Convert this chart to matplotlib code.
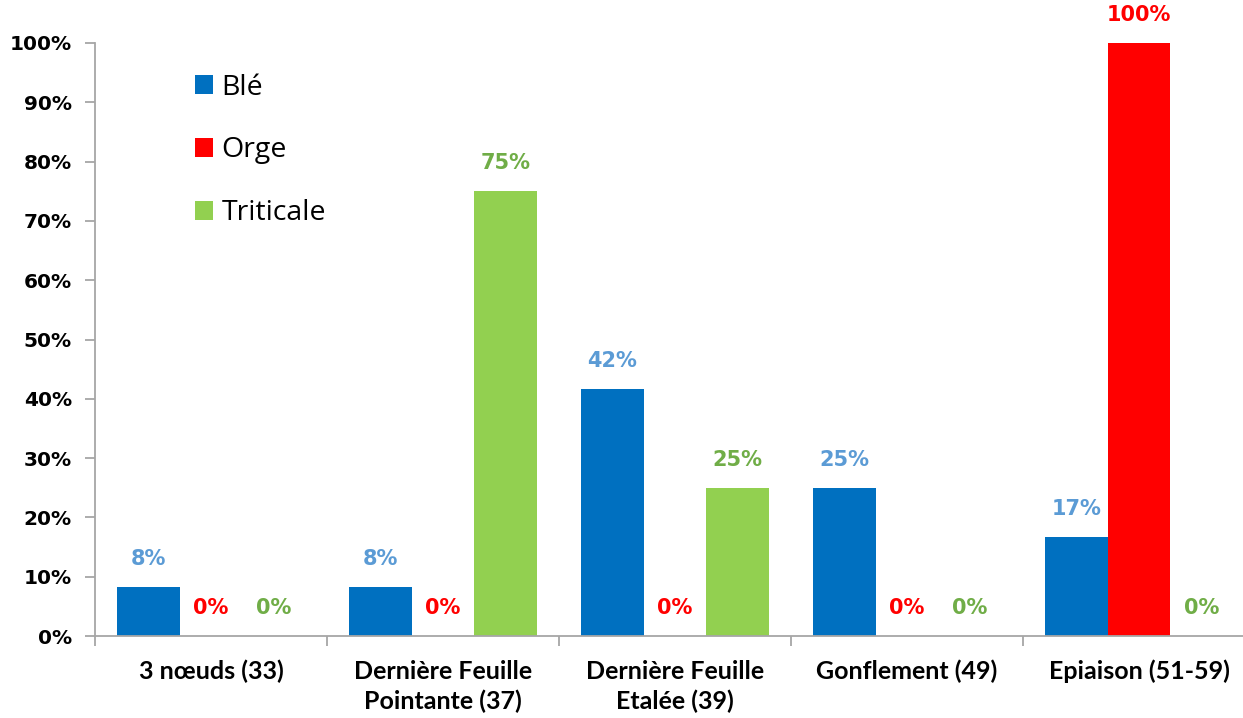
import matplotlib
matplotlib.use("Agg")
import matplotlib.pyplot as plt
from matplotlib.ticker import FuncFormatter

categories = ["3 nœuds (33)", "Dernière Feuille\nPointante (37)", "Dernière Feuille\nEtalée (39)",
              "Gonflement (49)", "Epiaison (51-59)"]
ble = [8.33, 8.33, 41.67, 25.0, 16.67]
orge = [0, 0, 0, 0, 100]
triticale = [0, 75, 25, 0, 0]
series_names = ["Blé", "Orge", "Triticale"]
bar_colors = ["#0070C0", "#FF0000", "#92D050"]
label_colors = ["#5B9BD5", "#FF0000", "#70AD47"]

W, H = 1243, 718
fig = plt.figure(figsize=(W / 100, H / 100), dpi=100)
ax = fig.add_axes([95 / W, 82 / H, 1160 / W, 593 / H])

width = 0.27
offsets = [-width, 0, width]
data = [ble, orge, triticale]
x = list(range(len(categories)))
for s, (vals, off) in enumerate(zip(data, offsets)):
    xs = [i + off for i in x]
    ax.bar(xs, vals, width=width, color=bar_colors[s], label=series_names[s], linewidth=0)
    for xi, v in zip(xs, vals):
        ax.annotate(f"{round(v):d}%", (xi, v), xytext=(0, 20), textcoords="offset points",
                    ha="center", va="center", color=label_colors[s],
                    fontsize=15, fontweight="bold", family="DejaVu Sans", annotation_clip=False)

ax.set_xlim(-0.5, len(categories) - 0.5)
ax.set_ylim(0, 100)
ax.set_yticks(range(0, 101, 10))
ax.yaxis.set_major_formatter(FuncFormatter(lambda v, p: f"{int(v)}%"))
for lab in ax.get_yticklabels():
    lab.set_fontweight("bold")
    lab.set_fontsize(14.5)
    lab.set_family("DejaVu Sans")

ax.set_xticks([i - 0.5 for i in range(len(categories))])
ax.set_xticklabels([])
ax.set_xticks(x, minor=True)
ax.set_xticklabels(categories, minor=True, fontsize=18, fontweight="bold", family="Lato",
                   linespacing=1.35)
ax.tick_params(axis="x", which="minor", length=0, pad=17)
ax.tick_params(axis="x", which="major", length=7, width=1.3, color="#A6A6A6", direction="out")
ax.tick_params(axis="y", length=7, width=1.3, color="#A6A6A6", direction="out", pad=9.7)

for side in ["top", "right"]:
    ax.spines[side].set_visible(False)
for side in ["left", "bottom"]:
    ax.spines[side].set_color("#A6A6A6")
    ax.spines[side].set_linewidth(1.3)

leg = ax.legend(loc="upper left", bbox_to_anchor=(169 / W, 670 / H), bbox_transform=fig.transFigure,
                frameon=False, handlelength=0.65, handleheight=0.65, handletextpad=0.3,
                labelspacing=1.22, prop={"family": "Open Sans", "size": 20.5})

fig.savefig("out.png", dpi=100)
